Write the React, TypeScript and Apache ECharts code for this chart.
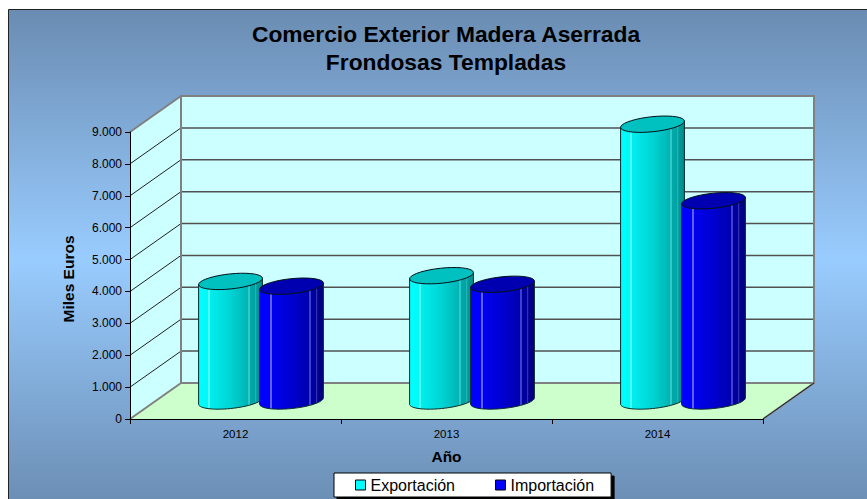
import React, { useEffect, useRef } from "react";
import * as echarts from "echarts";

const years = ["2012", "2013", "2014"];
const exportacion = [3750, 3930, 8680];
const importacion = [3600, 3660, 6280];
const yTicks = [0, 1000, 2000, 3000, 4000, 5000, 6000, 7000, 8000, 9000];

const DX = 51, DY = -36;
const FONT = "'Liberation Sans', Arial, sans-serif";
const cyanStops = [
  [0, "#00ffff"], [0.14, "#00f8f8"], [0.15, "#50ffff"], [0.17, "#50ffff"], [0.18, "#00eeee"],
  [0.5, "#00d4d4"], [0.77, "#00b4b4"], [0.78, "#30c8c8"], [0.8, "#30c8c8"], [0.81, "#00a8a8"],
  [0.88, "#00a2a2"], [0.89, "#20b4b4"], [0.9, "#20b4b4"], [0.91, "#009a9a"], [1, "#008c8c"],
];
const blueStops = [
  [0, "#0000ff"], [0.16, "#0000ff"], [0.17, "#6060ff"], [0.19, "#6060ff"], [0.2, "#0000f0"],
  [0.5, "#0000d0"], [0.77, "#0000b0"], [0.78, "#4040d0"], [0.8, "#4040d0"], [0.81, "#0000a0"],
  [0.88, "#000098"], [0.89, "#3030b8"], [0.9, "#3030b8"], [0.91, "#000090"], [1, "#000078"],
];

function ellipsePts(cx: number, cy: number, a: number, b: number, rot: number, from: number, to: number) {
  const pts: number[][] = [];
  const n = 36;
  for (let i = 0; i <= n; i++) {
    const t = from + ((to - from) * i) / n;
    const x = a * Math.cos(t), y = b * Math.sin(t);
    pts.push([cx + x * Math.cos(rot) - y * Math.sin(rot), cy + x * Math.sin(rot) + y * Math.cos(rot)]);
  }
  return pts;
}

function cylinder(side: number, stops: any[], cap: string) {
  return (params: any, api: any) => {
    const i = api.value(0);
    const front = api.coord([i, api.value(1)]);
    const base = api.coord([i, 0]);
    const band = api.size([1, 0])[0];
    const a = band * 0.152;
    const b = 7.5;
    const rot = (-6 * Math.PI) / 180;
    const cx = front[0] + DX / 2 + side * band * 0.1445;
    const top = front[1] + DY / 2;
    const bottom = base[1] + DY / 2;
    const tilt = Math.atan2(b * Math.sin(rot) * -1, a * Math.cos(rot));
    const lower = ellipsePts(cx, bottom, a, b, rot, tilt, tilt + Math.PI);
    const upperR = ellipsePts(cx, top, a, b, rot, tilt, tilt);
    const upperL = ellipsePts(cx, top, a, b, rot, tilt + Math.PI, tilt + Math.PI);
    const body = [upperL[0], upperR[0], ...lower];
    const grad = new echarts.graphic.LinearGradient(0, 0, 1, 0, stops.map(([offset, color]) => ({ offset, color })));
    return {
      type: "group",
      children: [
        { type: "polygon", shape: { points: body }, style: { fill: grad, stroke: "#0a2a2a", lineWidth: 1 } },
        {
          type: "polygon",
          shape: { points: ellipsePts(cx, top, a, b, rot, 0, Math.PI * 2) },
          style: { fill: cap, stroke: "#001018", lineWidth: 1 },
        },
      ],
    };
  };
}

function walls(params: any, api: any) {
  const band = api.size([1, 0])[0];
  const first = api.coord([0, 0]);
  const last = api.coord([years.length - 1, 0]);
  const left = first[0] - band / 2;
  const right = last[0] + band / 2;
  const o = [left, first[1]];
  const t = [left, api.coord([0, yTicks[yTicks.length - 1]])[1]];
  const r = [right, first[1]];
  const bx = o[0] + DX, by = o[1] + DY;
  const backTop = t[1] + DY;
  const backR = r[0] + DX;
  const edge = { stroke: "#808080", lineWidth: 2, fill: "none" };
  const children: any[] = [
    { type: "polygon", shape: { points: [[bx, backTop], [backR, backTop], [backR, by], [bx, by]] }, style: { fill: "#ccffff" } },
    { type: "polygon", shape: { points: [[o[0], o[1]], [bx, by], [bx, backTop], [t[0], t[1]]] }, style: { fill: "#ccffff" } },
    { type: "polygon", shape: { points: [[o[0], o[1]], [bx, by], [backR, by], [r[0], r[1]]] }, style: { fill: "#ccffcc" } },
  ];
  yTicks.slice(1, -1).forEach((v) => {
    const y = api.coord([0, v])[1];
    children.push({
      type: "polyline",
      shape: { points: [[left, y], [bx, y + DY]] },
      style: { stroke: "#202020", lineWidth: 1, fill: "none" },
    });
    children.push({
      type: "line",
      shape: { x1: bx, y1: y + DY, x2: backR, y2: y + DY },
      style: { stroke: "#505050", lineWidth: 1.5 },
    });
  });
  children.push(
    { type: "polyline", shape: { points: [[t[0], t[1]], [bx, backTop], [backR, backTop], [backR, by], [r[0], r[1]]] }, style: edge },
    { type: "polyline", shape: { points: [[bx, backTop], [bx, by], [backR, by]] }, style: edge },
    { type: "line", shape: { x1: o[0], y1: o[1], x2: bx, y2: by }, style: { stroke: "#808080", lineWidth: 2 } },
    { type: "line", shape: { x1: r[0], y1: r[1], x2: backR, y2: by }, style: { stroke: "#202020", lineWidth: 1 } },
  );
  return { type: "group", children };
}

export default function App() {
  const ref = useRef<HTMLDivElement>(null);
  useEffect(() => {
    const chart = echarts.init(ref.current!, undefined, { renderer: "svg" });
    chart.setOption({
      animation: false,
      graphic: [
        {
          type: "rect",
          z: -10,
          shape: { x: 8.5, y: 9.5, width: 870, height: 500 },
          style: {
            fill: new echarts.graphic.LinearGradient(0, 0, 0, 1, [
              { offset: 0, color: "#6a8cb2" },
              { offset: 0.5, color: "#99ccff" },
              { offset: 1, color: "#6a8cb2" },
            ]),
            stroke: "#222222",
            lineWidth: 1,
          },
        },
      ],
      title: {
        text: "Comercio Exterior Madera Aserrada\nFrondosas Templadas",
        left: 441,
        top: 15,
        textAlign: "center",
        textStyle: { fontFamily: FONT, fontSize: 22.8, fontWeight: "bold", color: "#000", lineHeight: 28 },
      },
      legend: {
        left: 334,
        top: 473,
        padding: [4, 17, 4, 21],
        itemWidth: 10,
        itemHeight: 10,
        itemGap: 40,
        icon: "rect",
        backgroundColor: "#ffffff",
        borderColor: "#000000",
        borderWidth: 1,
        borderRadius: 0,
        shadowColor: "#000000",
        shadowBlur: 0,
        shadowOffsetX: 3,
        shadowOffsetY: 3,
        textStyle: { fontFamily: FONT, fontSize: 16, color: "#000" },
        data: [
          { name: "Exportación", itemStyle: { color: "#00ffff", borderColor: "#000", borderWidth: 1 } },
          { name: "Importación", itemStyle: { color: "#0000ff", borderColor: "#000", borderWidth: 1 } },
        ],
      },
      grid: { left: 130, top: 132, width: 633, height: 287, containLabel: false },
      xAxis: {
        type: "category",
        data: years,
        boundaryGap: true,
        name: "Año",
        nameLocation: "middle",
        nameGap: 29,
        nameTextStyle: { fontFamily: FONT, fontSize: 15.5, fontWeight: "bold", color: "#000" },
        axisLine: { lineStyle: { color: "#000", width: 1 } },
        axisTick: { show: true, length: 5, lineStyle: { color: "#000" } },
        axisLabel: { fontFamily: FONT, fontSize: 11.5, color: "#000", margin: 9 },
        splitLine: { show: false },
      },
      yAxis: {
        type: "value",
        min: 0,
        max: 9000,
        interval: 1000,
        name: "Miles Euros",
        nameLocation: "middle",
        nameGap: 54,
        nameTextStyle: { fontFamily: FONT, fontSize: 15.5, fontWeight: "bold", color: "#000", padding: [0, 7, 0, 0] },
        axisLine: { show: true, lineStyle: { color: "#000", width: 1 } },
        axisTick: { show: true, length: 5, lineStyle: { color: "#000" } },
        axisLabel: {
          fontFamily: FONT,
          fontSize: 12,
          color: "#000",
          margin: 8,
          padding: [2, 0, 0, 0],
          formatter: (v: number) => (v === 0 ? "0" : String(v).replace(/(\d)(\d{3})$/, "$1.$2")),
        },
        splitLine: { show: false },
      },
      series: [
        {
          name: "walls",
          type: "custom",
          z: 0,
          silent: true,
          renderItem: walls,
          clip: false,
          data: [[0, 0]],
          encode: { x: 0, y: 1 },
        },
        {
          name: "Exportación",
          type: "custom",
          z: 3,
          clip: false,
          renderItem: cylinder(-1, cyanStops, "#00c0c0"),
          data: exportacion.map((v, i) => [i, v]),
          encode: { x: 0, y: 1 },
        },
        {
          name: "Importación",
          type: "custom",
          z: 4,
          clip: false,
          renderItem: cylinder(1, blueStops, "#0000b0"),
          data: importacion.map((v, i) => [i, v]),
          encode: { x: 0, y: 1 },
        },
      ],
    });
    return () => chart.dispose();
  }, []);
  return <div ref={ref} style={{ position: "fixed", left: 0, top: 0, width: 867, height: 499, background: "#fff" }} />;
}
